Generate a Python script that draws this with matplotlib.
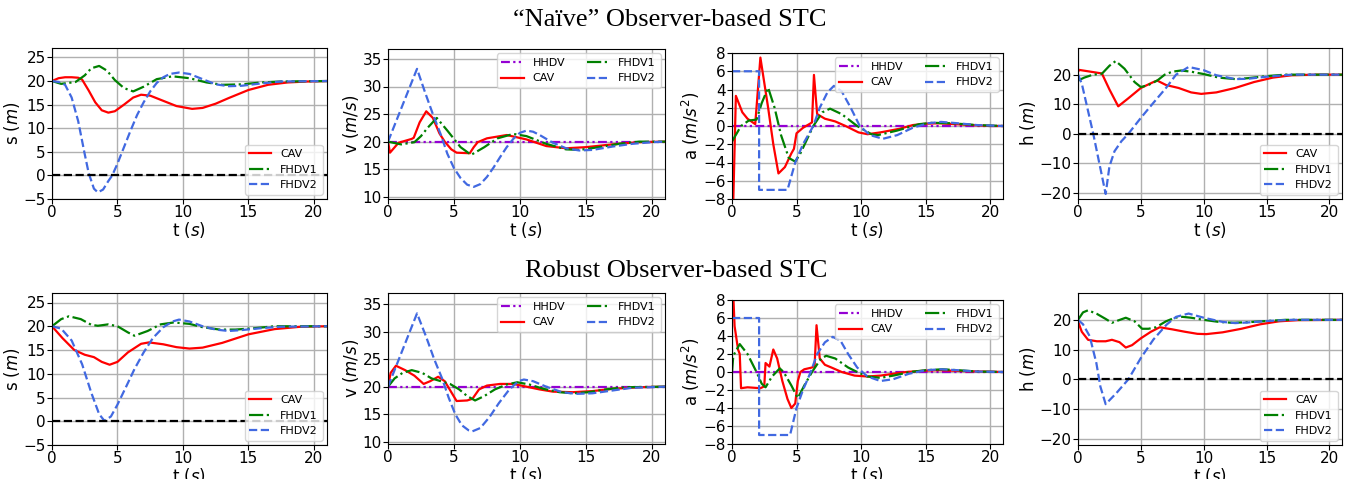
import matplotlib
matplotlib.use("Agg")
import matplotlib.pyplot as plt

W, H = 1348, 479

# ---------------- "Naive" observer (top row) ----------------
# spacing s (m)
n_s_cav_t = [0, 0.5, 1, 1.5, 2, 2.3, 2.8, 3.3, 3.8, 4.3, 4.8, 5.5, 6.2, 6.8, 7.5, 8.5, 9.5, 10.7, 11.5, 12.5, 13.5, 15, 16.5, 18, 19.5, 21]
n_s_cav = [20, 20.6, 20.8, 20.8, 20.7, 20.3, 18, 15.5, 13.8, 13.3, 13.6, 15, 16.5, 17.1, 16.9, 15.8, 14.7, 14.1, 14.3, 15.2, 16.4, 18.1, 19.2, 19.7, 19.9, 20]
n_s_f1_t = [0, 0.7, 1.8, 2.5, 3.0, 3.6, 4.2, 4.8, 5.5, 6.2, 7.0, 8.0, 9.2, 10.5, 11.8, 13, 14.5, 16, 17.5, 21]
n_s_f1 = [20, 19.4, 19.8, 21.2, 22.7, 23.2, 22.2, 20.2, 18.5, 17.8, 18.8, 20.4, 21.0, 20.6, 19.7, 19.2, 19.3, 19.7, 19.9, 20]
n_s_f2_t = [0, 0.5, 1, 1.5, 2, 2.5, 2.8, 3.2, 3.5, 3.9, 4.3, 4.6, 5, 5.5, 6, 6.5, 7, 7.5, 8, 8.5, 9, 9.7, 10.5, 11.5, 12.5, 13.5, 14.5, 16, 17.5, 21]
n_s_f2 = [20, 19.8, 19.2, 16.5, 11.5, 4.5, 0.5, -2.8, -3.6, -3, -1.2, 0, 2.5, 6, 9.5, 12.8, 15.5, 17.8, 19.6, 20.8, 21.5, 21.8, 21.5, 20.4, 19.3, 18.9, 19.0, 19.5, 19.9, 20]

# velocity v (m/s)
n_v_cav_t = [0, 0.15, 0.8, 1.8, 1.95, 2.4, 2.9, 3.4, 3.9, 4.3, 4.8, 5.2, 6.2, 6.5, 6.8, 7.5, 9, 10.5, 12, 13.5, 15, 17, 19, 21]
n_v_cav = [20, 18, 19.8, 20.5, 20.7, 23.5, 25.5, 24.3, 21.5, 20, 18.6, 18, 17.9, 19, 19.9, 20.6, 21.2, 20.4, 19.2, 18.8, 19, 19.5, 19.9, 20]
n_v_f1_t = [0, 1, 2, 2.5, 3, 3.7, 4.5, 5.5, 6.3, 7.3, 8.3, 9.5, 10.5, 12, 13.5, 14.5, 16, 17.5, 19, 21]
n_v_f1 = [20, 19.5, 19.9, 21, 22.5, 24.3, 22, 19, 17.6, 19, 20.6, 21.4, 21, 19.6, 18.6, 18.5, 19, 19.6, 20, 20]
n_v_f2_t = [0, 2.2, 2.8, 3.4, 4, 4.5, 5, 5.5, 6, 6.5, 7, 7.5, 8, 8.5, 9, 9.5, 10, 10.5, 11, 11.5, 12.5, 13.5, 14.5, 15.5, 17, 18.5, 20, 21]
n_v_f2 = [20, 33.2, 29, 25, 21.3, 17.8, 15.2, 13.4, 12.2, 11.8, 12.3, 13.6, 15.3, 17.2, 19, 20.5, 21.6, 22, 21.8, 21.2, 19.8, 18.8, 18.4, 18.5, 19.1, 19.6, 19.9, 20]

# acceleration a (m/s^2)
n_a_cav_t = [0, 0.3, 0.8, 1.2, 1.5, 1.8, 2.2, 2.8, 3.2, 3.6, 4.1, 4.6, 4.8, 5.0, 5.5, 6.1, 6.2, 6.35, 6.6, 7.2, 8, 8.8, 9.8, 10.5, 11.5, 13, 14, 15, 16, 18, 20, 21]
n_a_cav = [-14, 3.3, 1.5, 0.8, 0.5, 0.2, 7.5, 2, -2, -5.2, -4.5, -3, -2.5, -0.8, -0.2, 0.3, 0.4, 5.6, 1.3, 0.8, 0.5, 0, -0.7, -0.9, -0.7, -0.3, 0.1, 0.25, 0.3, 0.15, 0, 0]
n_a_f1_t = [0, 0.7, 1.3, 1.9, 2.3, 2.8, 3.3, 3.8, 4.4, 4.9, 5.3, 5.8, 6.3, 7, 7.6, 8.5, 9.7, 10.8, 11.3, 12.8, 14.5, 15.5, 17, 19, 21]
n_a_f1 = [-1.7, 0, 0.6, 0.7, 2.5, 4.2, 2, -1, -3.5, -3.9, -3, -1.5, 0, 1.5, 1.9, 1.3, 0, -0.9, -1.0, -0.5, 0.2, 0.35, 0.3, 0.1, 0]
n_a_f2_t = [0, 2.1, 2.1, 4.3, 4.9, 5.5, 6.3, 6.8, 7.4, 7.9, 8.5, 9.2, 9.9, 10.7, 11.7, 12.8, 14, 15.2, 16.2, 17.5, 19, 21]
n_a_f2 = [6, 6, -7, -7, -4, -2, 0, 2, 3.7, 4.4, 3.8, 2, 0, -1, -1.4, -1, -0.2, 0.3, 0.45, 0.3, 0.1, 0]

# headway h (m)
n_h_cav_t = [0, 0.1, 1, 1.9, 2.5, 3.2, 4, 5, 6, 6.3, 7, 8, 9, 9.8, 11, 12.5, 14, 15.5, 17, 19, 21]
n_h_cav = [21, 21.6, 21, 20.4, 15, 9.3, 12, 15.5, 17.5, 18, 16.5, 15.5, 14, 13.5, 14, 15.5, 17.5, 19, 19.8, 20, 20]
n_h_f1_t = [0, 0.5, 1.2, 1.9, 2.5, 3, 3.7, 4.5, 5, 5.6, 6.3, 6.9, 7.5, 8.2, 9, 10, 11.2, 12.5, 13.5, 15, 16.5, 21]
n_h_f1 = [18, 19, 20, 20.3, 23, 24.6, 22, 17.5, 15.8, 16.5, 18, 20, 21, 21.4, 21, 20.2, 19, 18.5, 18.8, 19.5, 20, 20]
n_h_f2_t = [0, 0.3, 1.2, 2.2, 2.5, 2.9, 3.45, 4, 5, 6, 7, 7.8, 8.8, 10, 11, 12.5, 13.5, 15, 17, 21]
n_h_f2 = [20, 17, 0.3, -20.3, -11, -5.9, -2.5, 0, 5.4, 10.5, 15.5, 20, 22.6, 21.5, 19.8, 18.5, 18.6, 19.3, 20, 20]

# ---------------- Robust observer (bottom row) ----------------
r_s_cav_t = [0, 0.8, 1.7, 2.5, 3.2, 3.8, 4.4, 5, 5.8, 6.8, 7.4, 8.5, 9.5, 10.5, 11.5, 13, 15, 17, 19, 21]
r_s_cav = [20, 17.5, 15, 14, 13.5, 12.5, 11.9, 12.5, 14.5, 16.3, 16.6, 16.2, 15.6, 15.3, 15.5, 16.5, 18.3, 19.4, 19.9, 20]
r_s_f1_t = [0, 0.7, 1.3, 2.2, 3, 3.5, 4.3, 5, 5.8, 6.3, 7.3, 8.3, 9.3, 10.5, 11.5, 12.8, 14, 15.5, 17, 21]
r_s_f1 = [20, 21.5, 22.1, 21.5, 20.3, 20.1, 20.4, 20, 18.7, 18, 19, 20.4, 20.8, 20.5, 19.8, 19.3, 19.3, 19.6, 20, 20]
r_s_f2_t = [0, 0.7, 1.5, 2.3, 3, 3.6, 4.0, 4.5, 5, 5.7, 6.3, 7, 7.7, 8.5, 9.2, 9.7, 10.5, 11.5, 12.5, 13.5, 14.5, 16, 17.5, 21]
r_s_f2 = [20, 19.5, 17, 12, 6, 1.5, 0.1, 1, 3.5, 7.5, 11, 14.5, 17.5, 19.8, 21, 21.4, 21, 20, 19.3, 19, 19.2, 19.6, 19.9, 20]

r_v_cav_t = [0, 0.2, 0.6, 1.3, 2, 2.7, 3.2, 3.8, 4.3, 4.8, 5.2, 6, 6.4, 6.9, 7.5, 8.5, 9.5, 10.5, 11.5, 12.5, 14, 15.5, 17, 19, 21]
r_v_cav = [20, 22.5, 23.8, 23, 22, 20.5, 21, 21.8, 21, 19, 17.4, 17.5, 17.8, 19.5, 20.2, 20.5, 20.5, 20, 19.5, 19.1, 19, 19.2, 19.6, 19.9, 20]
r_v_f1_t = [0, 0.5, 1.1, 1.8, 2.6, 3.3, 4, 4.7, 5.4, 6, 6.6, 7.3, 8.1, 9, 9.8, 10.7, 11.8, 13, 14, 15.2, 16.5, 18, 21]
r_v_f1 = [20, 21.5, 22.5, 23, 22.5, 21.5, 21, 20.5, 19.5, 18.3, 17.5, 18.3, 19.5, 20.4, 20.8, 20.4, 19.6, 19, 18.8, 19, 19.5, 19.9, 20]
r_v_f2_t = [0, 2.2, 2.9, 3.5, 4.1, 4.6, 5.1, 5.6, 6.1, 6.4, 7, 7.7, 8.4, 9.2, 9.9, 10.3, 11, 12, 13.2, 14.3, 15.5, 17, 18.5, 21]
r_v_f2 = [20, 33.3, 29, 25, 21.5, 18, 15, 13, 12.1, 11.9, 12.5, 14.5, 17, 19.5, 21, 21.3, 21, 20, 19, 18.7, 18.8, 19.3, 19.8, 20]

r_a_cav_t = [0, 0.2, 0.47, 0.6, 0.7, 1.2, 2.2, 2.5, 2.6, 2.9, 3.2, 3.5, 3.9, 4.3, 4.6, 4.9, 5.1, 5.3, 5.6, 6.2, 6.4, 6.55, 6.8, 7.2, 7.7, 8.5, 9.5, 10.5, 11.5, 12.5, 13.5, 15, 16, 18, 21]
r_a_cav = [12, 5.1, 2.5, 2, -1.8, -1.7, -1.8, -1.6, 1, 0.6, 2.5, 1.5, -1, -3, -4, -3.5, -1, 0, 0.3, 0.5, 0.7, 5.2, 1.5, 0.8, 0.5, 0, -0.4, -0.5, -0.4, -0.2, 0, 0.15, 0.2, 0.1, 0]
r_a_f1_t = [0, 0.1, 0.6, 1.2, 1.9, 2.3, 2.6, 3.1, 3.7, 4.0, 4.6, 5.1, 5.6, 6.2, 6.9, 7.3, 8, 9, 9.7, 10.5, 11.5, 12.5, 13.8, 15, 16.3, 17.5, 19, 21]
r_a_f1 = [0, 1.8, 3.1, 2, 0, -1.3, -1.7, -0.5, 0.4, 0, -1.5, -2.9, -1.5, 0, 1.5, 1.8, 1.5, 0.5, 0, -0.5, -0.65, -0.4, 0, 0.2, 0.3, 0.2, 0.05, 0]
r_a_f2_t = [0, 2.1, 2.1, 4.5, 5, 5.5, 6.1, 6.6, 7.2, 7.8, 8.4, 9, 9.7, 10.5, 11.5, 12.5, 13.7, 15, 16.2, 17.5, 19, 21]
r_a_f2 = [6, 6, -7, -7, -4, -2, 0, 2, 3.3, 3.9, 3.5, 2, 0.5, -0.5, -1, -0.8, -0.2, 0.2, 0.3, 0.2, 0.05, 0]

r_h_cav_t = [0, 0.3, 0.8, 1.5, 2.2, 2.7, 3.3, 3.8, 4.3, 5, 5.8, 6.5, 7.5, 8.5, 9.5, 10.2, 11.5, 13, 14.5, 16, 17.5, 21]
r_h_cav = [19.5, 16, 13.3, 12.8, 12.8, 13.3, 12.5, 10.7, 11.5, 13.8, 16, 17.5, 16.8, 16, 15.3, 15.2, 15.8, 17, 18.5, 19.5, 19.9, 20]
r_h_f1_t = [0, 0.4, 0.8, 1.5, 2.2, 2.7, 3.2, 3.8, 4.5, 5.1, 5.6, 6.2, 7, 7.7, 8.3, 9, 10, 11.2, 12.3, 13.5, 15, 16.5, 21]
r_h_f1 = [20, 22.5, 23.2, 22, 20.3, 19, 19.8, 20.7, 19.5, 17, 17, 17.5, 19.5, 20.7, 21, 20.7, 20, 19.3, 19, 19.2, 19.6, 20, 20]
r_h_f2_t = [0, 0.4, 0.93, 1.46, 1.78, 2.2, 3.05, 4, 5, 6, 7.05, 7.8, 8.8, 10, 11.5, 12.5, 13.5, 15, 17, 21]
r_h_f2 = [20, 18.5, 14.5, 5.5, -2.4, -8.3, -4.6, 0, 7.2, 13.4, 18.4, 21, 22.1, 20.7, 19.3, 18.9, 19.1, 19.6, 20, 20]

hhdv_v_t = [0, 21]
hhdv_v = [20, 20]
hhdv_a_t = [0, 21]
hhdv_a = [0, 0]

TICK_FS = 11
LABEL_FS = 12
LEG_FS = 8
LW = 1.6


def px_axes(fig, x0, y0, x1, y1):
    return fig.add_axes([x0 / W, 1 - y1 / H, (x1 - x0) / W, (y1 - y0) / H])


def finish(ax, ylabel, ylim, yticks):
    ax.set_xlim(0, 21)
    ax.set_ylim(*ylim)
    ax.set_xticks([0, 5, 10, 15, 20])
    ax.set_yticks(yticks)
    ax.grid(True, color='#b0b0b0', linewidth=1.0)
    ax.set_axisbelow(True)
    ax.tick_params(labelsize=TICK_FS, pad=1)
    ax.set_xlabel(r't ($s$)', fontsize=LABEL_FS, labelpad=0)
    ax.set_ylabel(ylabel, fontsize=LABEL_FS, labelpad=1)


def panel_s(ax, cav_t, cav, f1_t, f1, f2_t, f2):
    ax.plot(cav_t, cav, color='red', lw=LW, label='CAV')
    ax.plot(f1_t, f1, color='green', ls='-.', lw=LW, label='FHDV1')
    ax.plot(f2_t, f2, color='royalblue', ls='--', lw=LW, label='FHDV2')
    ax.axhline(0, color='black', ls='--', lw=LW)
    ax.legend(loc='lower right', fontsize=LEG_FS, borderaxespad=0.4)
    finish(ax, r's ($m$)', (-5, 27), [-5, 0, 5, 10, 15, 20, 25])


def panel_v(ax, hh_t, hh, cav_t, cav, f1_t, f1, f2_t, f2, ylabel, ylim, yticks):
    ax.plot(hh_t, hh, color='darkviolet', ls=(0, (4, 1.5, 1, 1.5, 1, 1.5)), lw=LW, label='HHDV')
    ax.plot(cav_t, cav, color='red', lw=LW, label='CAV')
    ax.plot(f1_t, f1, color='green', ls='-.', lw=LW, label='FHDV1')
    ax.plot(f2_t, f2, color='royalblue', ls='--', lw=LW, label='FHDV2')
    ax.legend(loc='upper right', ncol=2, fontsize=LEG_FS, borderaxespad=0.4)
    finish(ax, ylabel, ylim, yticks)


def panel_h(ax, cav_t, cav, f1_t, f1, f2_t, f2):
    ax.plot(cav_t, cav, color='red', lw=LW, label='CAV')
    ax.plot(f1_t, f1, color='green', ls='-.', lw=LW, label='FHDV1')
    ax.plot(f2_t, f2, color='royalblue', ls='--', lw=LW, label='FHDV2')
    ax.axhline(0, color='black', ls='--', lw=LW)
    ax.legend(loc='lower right', fontsize=LEG_FS, borderaxespad=0.4)
    finish(ax, r'h ($m$)', (-22, 29), [-20, -10, 0, 10, 20])


fig = plt.figure(figsize=(W / 100, H / 100), dpi=100)

# top row
panel_s(px_axes(fig, 52, 48, 327, 199), n_s_cav_t, n_s_cav, n_s_f1_t, n_s_f1, n_s_f2_t, n_s_f2)
panel_v(px_axes(fig, 388, 49, 665, 199), hhdv_v_t, hhdv_v, n_v_cav_t, n_v_cav, n_v_f1_t, n_v_f1,
        n_v_f2_t, n_v_f2, r'v ($m/s$)', (9.6, 36.8), [10, 15, 20, 25, 30, 35])
panel_v(px_axes(fig, 732, 53, 1003, 199), hhdv_a_t, hhdv_a, n_a_cav_t, n_a_cav, n_a_f1_t, n_a_f1,
        n_a_f2_t, n_a_f2, r'a ($m/s^2$)', (-8, 8), [-8, -6, -4, -2, 0, 2, 4, 6, 8])
panel_h(px_axes(fig, 1078, 48, 1342, 199), n_h_cav_t, n_h_cav, n_h_f1_t, n_h_f1, n_h_f2_t, n_h_f2)

# bottom row
panel_s(px_axes(fig, 52, 293, 327, 445), r_s_cav_t, r_s_cav, r_s_f1_t, r_s_f1, r_s_f2_t, r_s_f2)
panel_v(px_axes(fig, 388, 293, 665, 444), hhdv_v_t, hhdv_v, r_v_cav_t, r_v_cav, r_v_f1_t, r_v_f1,
        r_v_f2_t, r_v_f2, r'v ($m/s$)', (9.6, 37), [10, 15, 20, 25, 30, 35])
panel_v(px_axes(fig, 732, 300, 1003, 444), hhdv_a_t, hhdv_a, r_a_cav_t, r_a_cav, r_a_f1_t, r_a_f1,
        r_a_f2_t, r_a_f2, r'a ($m/s^2$)', (-8, 8), [-8, -6, -4, -2, 0, 2, 4, 6, 8])
panel_h(px_axes(fig, 1078, 293, 1342, 445), r_h_cav_t, r_h_cav, r_h_f1_t, r_h_f1, r_h_f2_t, r_h_f2)

fig.text(670 / W, 1 - 26 / H, '\u201cNa\u00efve\u201d Observer-based STC', ha='center', va='baseline',
         fontsize=19, family='Liberation Serif')
fig.text(676 / W, 1 - 277 / H, 'Robust Observer-based STC', ha='center', va='baseline',
         fontsize=19, family='Liberation Serif')

fig.savefig('out.png', dpi=100)
